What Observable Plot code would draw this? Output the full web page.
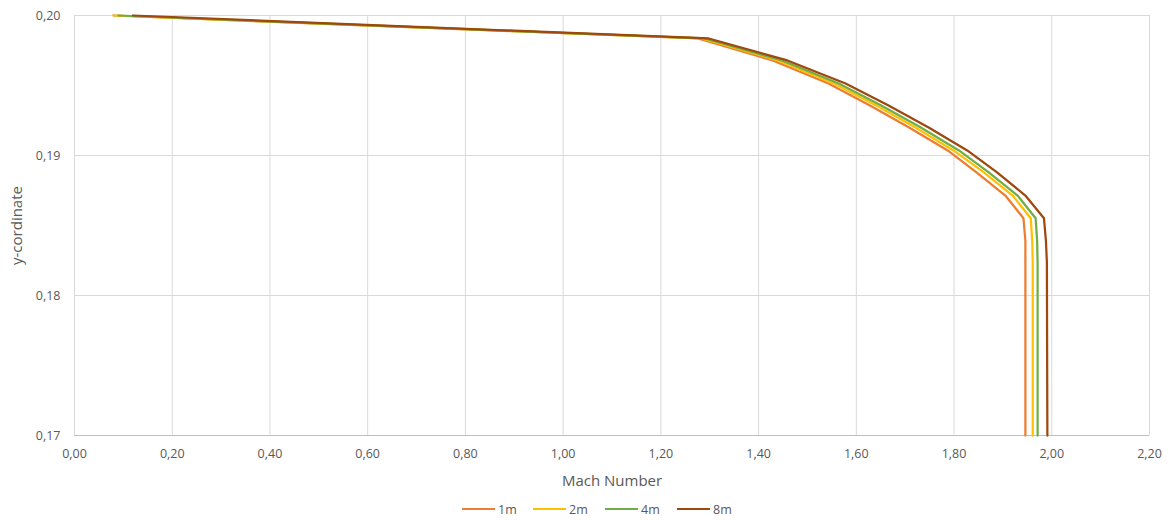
<!DOCTYPE html>
<html>
<head>
<meta charset="utf-8">
<script src="https://cdn.jsdelivr.net/npm/d3@7"></script>
<script src="https://cdn.jsdelivr.net/npm/@observablehq/plot@0.6"></script>
<style>
  html, body { margin: 0; padding: 0; background: #fff; }
  body { width: 1169px; height: 520px; position: relative; font-family: "Open Sans", "Noto Sans", sans-serif; }
  #legend { position: absolute; left: 0; top: 499px; width: 1169px; height: 20px; }
  .item { position: absolute; top: 0; height: 20px; display: flex; align-items: center; font-size: 12.5px; color: #595959; }
  .swatch { display: inline-block; width: 33px; height: 2.5px; margin-right: 3px; }
</style>
</head>
<body>
<div id="chart"></div>
<div id="legend"></div>
<script>
const series = ["1m", "2m", "4m", "8m"];
const colors = ["#ED7D31", "#FFC000", "#70AD47", "#9E480E"];
const yCoord = [0.2000, 0.19836, 0.19679, 0.19514, 0.19357, 0.19200, 0.19036, 0.18879, 0.18714, 0.18552, 0.18393, 0.18236, 0.17];
const mach1m = [0.080, 1.276, 1.429, 1.543, 1.628, 1.708, 1.787, 1.846, 1.905, 1.942, 1.946, 1.946, 1.946];
const mach2m = [0.080, 1.284, 1.440, 1.554, 1.641, 1.721, 1.799, 1.861, 1.920, 1.957, 1.960, 1.961, 1.961];
const mach4m = [0.090, 1.290, 1.448, 1.564, 1.651, 1.732, 1.810, 1.871, 1.930, 1.967, 1.970, 1.971, 1.971];
const mach8m = [0.120, 1.298, 1.459, 1.578, 1.666, 1.748, 1.827, 1.888, 1.946, 1.984, 1.988, 1.990, 1.991];
const xTicks = [0, 0.2, 0.4, 0.6, 0.8, 1.0, 1.2, 1.4, 1.6, 1.8, 2.0, 2.2];
const yTicks = [0.17, 0.18, 0.19, 0.20];

const machBySeries = [mach1m, mach2m, mach4m, mach8m];
const data = [];
series.forEach((s, i) => {
  machBySeries[i].forEach((m, j) => data.push({series: s, mach: m, y: yCoord[j]}));
});
const fmt = d => d.toFixed(2).replace(".", ",");

const chart = Plot.plot({
  width: 1169,
  height: 499,
  marginLeft: 74,
  marginRight: 20,
  marginTop: 15,
  marginBottom: 64,
  style: { fontFamily: "'Open Sans', 'Noto Sans', sans-serif", fontSize: "12px", color: "#595959", background: "#fff" },
  x: { domain: [0, 2.2], ticks: xTicks },
  y: { domain: [0.17, 0.20], ticks: yTicks },
  color: { domain: series, range: colors },
  marks: [
    Plot.gridX(xTicks, { stroke: "#d9d9d9", strokeOpacity: 1, strokeWidth: 1 }),
    Plot.gridY(yTicks, { stroke: "#d9d9d9", strokeOpacity: 1, strokeWidth: 1 }),
    Plot.ruleY([0.17], { stroke: "#bfbfbf", strokeWidth: 1 }),
    Plot.axisX(xTicks, { tickSize: 0, tickPadding: 14, tickFormat: fmt, label: null, fontSize: 12.5, fill: "#595959" }),
    Plot.axisY(yTicks, { tickSize: 0, tickPadding: 14, tickFormat: fmt, label: null, fontSize: 12.5, fill: "#595959" }),
    Plot.text(["y-cordinate"], { frameAnchor: "left", text: d => d, rotate: -90, dx: -57, textAnchor: "middle", lineAnchor: "middle", fontSize: 15, fill: "#595959" }),
    Plot.text(["Mach Number"], { frameAnchor: "bottom", text: d => d, dy: 46, textAnchor: "middle", lineAnchor: "middle", fontSize: 15, fill: "#595959" }),
    Plot.line(data, { x: "mach", y: "y", z: "series", stroke: "series", strokeWidth: 2.25, strokeLinejoin: "miter" })
  ]
});
document.getElementById("chart").appendChild(chart);

const legend = document.getElementById("legend");
const lx = [462, 533, 605, 677];
series.forEach((s, i) => {
  const it = document.createElement("div");
  it.className = "item";
  it.style.left = lx[i] + "px";
  it.innerHTML = `<span class="swatch" style="background:${colors[i]}"></span>${s}`;
  legend.appendChild(it);
});
</script>
</body>
</html>
